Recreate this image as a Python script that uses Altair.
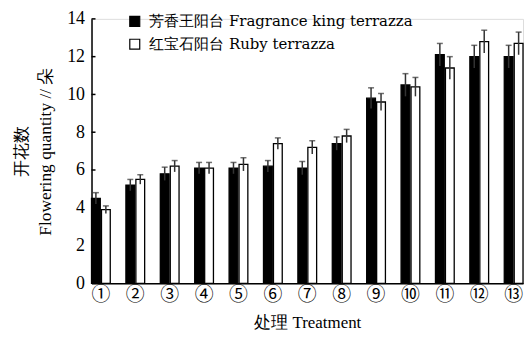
import altair as alt
import pandas as pd

cats = ["①", "②", "③", "④", "⑤", "⑥", "⑦", "⑧", "⑨", "⑩", "⑪", "⑫", "⑬"]
series = ["芳香王阳台 Fragrance king terrazza", "红宝石阳台 Ruby terrazza"]
fk_vals = [4.5, 5.2, 5.8, 6.1, 6.1, 6.2, 6.1, 7.4, 9.8, 10.5, 12.1, 12.0, 12.0]
fk_err = [0.3, 0.3, 0.35, 0.3, 0.3, 0.3, 0.35, 0.35, 0.55, 0.6, 0.6, 0.6, 0.6]
ruby_vals = [3.9, 5.5, 6.2, 6.1, 6.3, 7.4, 7.2, 7.8, 9.6, 10.4, 11.4, 12.8, 12.7]
ruby_err = [0.2, 0.25, 0.3, 0.3, 0.35, 0.3, 0.35, 0.35, 0.45, 0.5, 0.6, 0.6, 0.6]
y_ticks = [0, 2, 4, 6, 8, 10, 12, 14]

rows = []
for i, c in enumerate(cats):
    rows.append({"cat": c, "s": series[0], "v": fk_vals[i], "lo": fk_vals[i] - fk_err[i], "hi": fk_vals[i] + fk_err[i]})
    rows.append({"cat": c, "s": series[1], "v": ruby_vals[i], "lo": ruby_vals[i] - ruby_err[i], "hi": ruby_vals[i] + ruby_err[i]})
df = pd.DataFrame(rows)
tdf = pd.DataFrame({"t": y_ticks})

SERIF = "Liberation Serif"

x_axis = alt.Axis(title="处理 Treatment", labelAngle=0, ticks=False,
                  labelFont="Noto Sans CJK SC", labelFontSize=19, labelPadding=2,
                  labelColor="black", labelOverlap=False,
                  titleFont=SERIF, titleFontSize=17, titleFontWeight="normal",
                  titlePadding=10, titleColor="black",
                  domainColor="black", domainWidth=1.5)
y_axis = alt.Axis(values=y_ticks, title=["开花数", "Flowering quantity // 朵"],
                  ticks=False, grid=False, labelFont=SERIF, labelFontSize=18,
                  labelPadding=7, labelColor="black", labelOverlap=False,
                  labelFlush=False,
                  titleFont=SERIF, titleFontSize=17.5, titleFontWeight="normal",
                  titleLineHeight=24, titlePadding=12, titleColor="black",
                  domainColor="black", domainWidth=1.5)

x_enc = alt.X("cat:N", sort=cats,
              scale=alt.Scale(paddingInner=0.455, paddingOuter=0), axis=x_axis)
xo = alt.XOffset("s:N", sort=series, scale=alt.Scale(paddingInner=0.12))
y_scale = alt.Scale(domain=[0, 14], nice=False)

bars = alt.Chart(df).mark_bar(stroke="black", strokeWidth=1.3).encode(
    x=x_enc,
    xOffset=xo,
    y=alt.Y("v:Q", scale=y_scale, axis=y_axis),
    fill=alt.Fill("s:N", sort=series,
                  scale=alt.Scale(domain=series, range=["black", "white"]),
                  legend=alt.Legend(title=None, orient="none", legendX=36, legendY=-5,
                                    symbolType="square", symbolSize=100,
                                    symbolStrokeColor="black", symbolStrokeWidth=1.2,
                                    labelFont="DejaVu Serif", labelFontSize=15, labelColor="black",
                                    labelLimit=0, labelOffset=7, rowPadding=7, padding=0)),
)

err = alt.Chart(df).mark_rule(color="#333333", strokeWidth=1.5).encode(
    x=x_enc, xOffset=xo,
    y=alt.Y("lo:Q", scale=y_scale, axis=y_axis), y2="hi:Q",
)
caps = alt.Chart(df).mark_tick(color="#333333", thickness=1.5, size=6).encode(
    x=x_enc, xOffset=xo,
    y=alt.Y("hi:Q", scale=y_scale, axis=y_axis),
)
yticks = alt.Chart(tdf).mark_rule(color="black", strokeWidth=1.5).encode(
    x=alt.value(0), x2=alt.value(4),
    y=alt.Y("t:Q", scale=y_scale, axis=y_axis),
)

chart = alt.layer(bars, err, caps, yticks).properties(
    width=434, height=266,
    padding={"left": 5, "top": 1, "right": 0, "bottom": 0},
).configure_view(stroke=None).configure(background="white")

chart.save("out.html", embed_options={"renderer": "svg", "actions": False})
